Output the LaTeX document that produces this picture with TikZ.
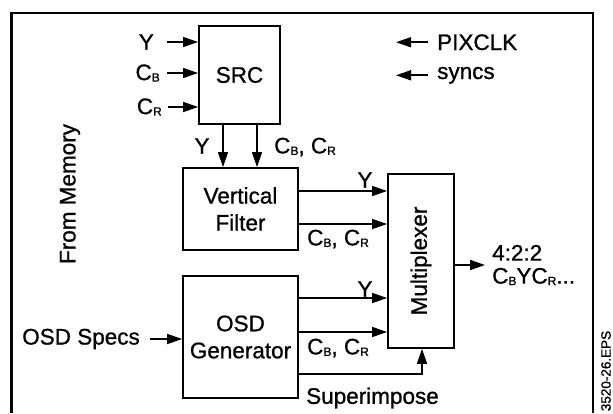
\documentclass[tikz,border=0pt]{standalone}
\usepackage{fontspec}
\setmainfont{Liberation Sans}[RawFeature={embolden=0.9}]
\usetikzlibrary{arrows.meta,positioning}
\newcommand{\sbx}[1]{\raisebox{-1.5pt}{\fontsize{12}{12}\selectfont #1}}

\begin{document}
\begin{tikzpicture}[
    x=1pt, y=-1pt,
    every node/.style={font=\fontsize{22.5}{27}\selectfont, align=center, inner sep=0pt},
    block/.style={rectangle, draw, line width=1.8pt},
    arrow/.style={-{Triangle[length=15pt,width=10pt]}, line width=1.6pt},
    wire/.style={line width=1.6pt}
]
% Video output path: SRC, vertical filter, OSD and multiplexer.
\useasboundingbox (0,0) rectangle (613,413);
\draw[line width=2.4pt] (11.5,413) -- (11.5,13) -- (593,13) -- (593,413);

\node[block, minimum width=81pt, minimum height=98pt] (src) at (239.5,75) {SRC};
\node[block, minimum width=115pt, minimum height=82pt] (vf) at (240.5,209) {Vertical\\Filter};
\node[block, minimum width=115pt, minimum height=122pt] (osd) at (240.5,337) {OSD\\Generator};
\node[block, minimum width=66pt, minimum height=174pt] (mux) at (421,261) {\rotatebox{90}{Multiplexer}};

\node[rotate=90] (mem) at (70,194) {From Memory};
\node[rotate=90, font=\fontsize{13.5}{13.5}\selectfont] (eps) at (606,371) {3520-26.EPS};

% inputs of the SRC
\coordinate (yin) at (167,42);
\coordinate (cbin) at (167,73);
\coordinate (crin) at (168,107);
\node[left=13pt of yin] (ylbl) {Y};
\node[left=7pt of cbin] (cblbl) {C\sbx{B}};
\node[left=6pt of crin] (crlbl) {C\sbx{R}};
\draw[arrow] (yin) -- (yin -| src.west);
\draw[arrow] (cbin) -- (cbin -| src.west);
\draw[arrow] (crin) -- (crin -| src.west);

\node[anchor=base west] (pix) at (437,50) {PIXCLK};
\node[anchor=base west] (syn) at (437,79) {syncs};
\coordinate (pixend) at ([xshift=-41pt]pix.west);
\coordinate (synend) at ([xshift=-41pt]syn.west);
\draw[arrow] ([xshift=-9pt]pix.west) -- (pixend);
\draw[arrow] ([xshift=-9pt]syn.west) -- (synend);

% SRC to vertical filter
\coordinate (srcy) at ([xshift=-16.5pt]src.south);
\coordinate (srcc) at ([xshift=17.5pt]src.south);
\draw[arrow] (srcy) -- (srcy |- vf.north);
\draw[arrow] (srcc) -- (srcc |- vf.north);
\node (ysrc) at (202,146) {Y};
\node[anchor=west] (csrc) at (274,147) {C\sbx{B}, C\sbx{R}};

% into the multiplexer
\coordinate (vfy) at ([yshift=18pt]vf.east);
\coordinate (vfc) at ([yshift=-15pt]vf.east);
\coordinate (osdy) at ([yshift=39pt]osd.east);
\coordinate (osdc) at ([yshift=5pt]osd.east);
\coordinate (osds) at ([yshift=-37pt]osd.east);
\draw[arrow] (vfy) -- (vfy -| mux.west);
\draw[arrow] (vfc) -- (vfc -| mux.west);
\draw[arrow] (osdy) -- (osdy -| mux.west);
\draw[arrow] (osdc) -- (osdc -| mux.west);
\draw[arrow] (osds) -| ([xshift=1pt]mux.south);
\node (vfylbl) at (365,180) {Y};
\node[anchor=west] (vfclbl) at (307,239) {C\sbx{B}, C\sbx{R}};
\node (osdylbl) at (365,289) {Y};
\node[anchor=west] (osdclbl) at (307,348) {C\sbx{B}, C\sbx{R}};
\node[anchor=west] (suplbl) at (306,398) {Superimpose};

\node[anchor=east] (spec) at (140,339) {OSD Specs};
\draw[arrow, shorten <=10pt] (spec.east) -- (spec.east -| osd.west);

% output
\coordinate (muxo) at ([yshift=-4pt]mux.east);
\node[anchor=west, align=left, font=\fontsize{22.5}{23}\selectfont] (outlbl) at (492,265) {4:2:2\\C\sbx{B}YC\sbx{R}...};
\draw[arrow, shorten >=7pt] (muxo) -- (muxo -| outlbl.west);
\end{tikzpicture}
\end{document}
